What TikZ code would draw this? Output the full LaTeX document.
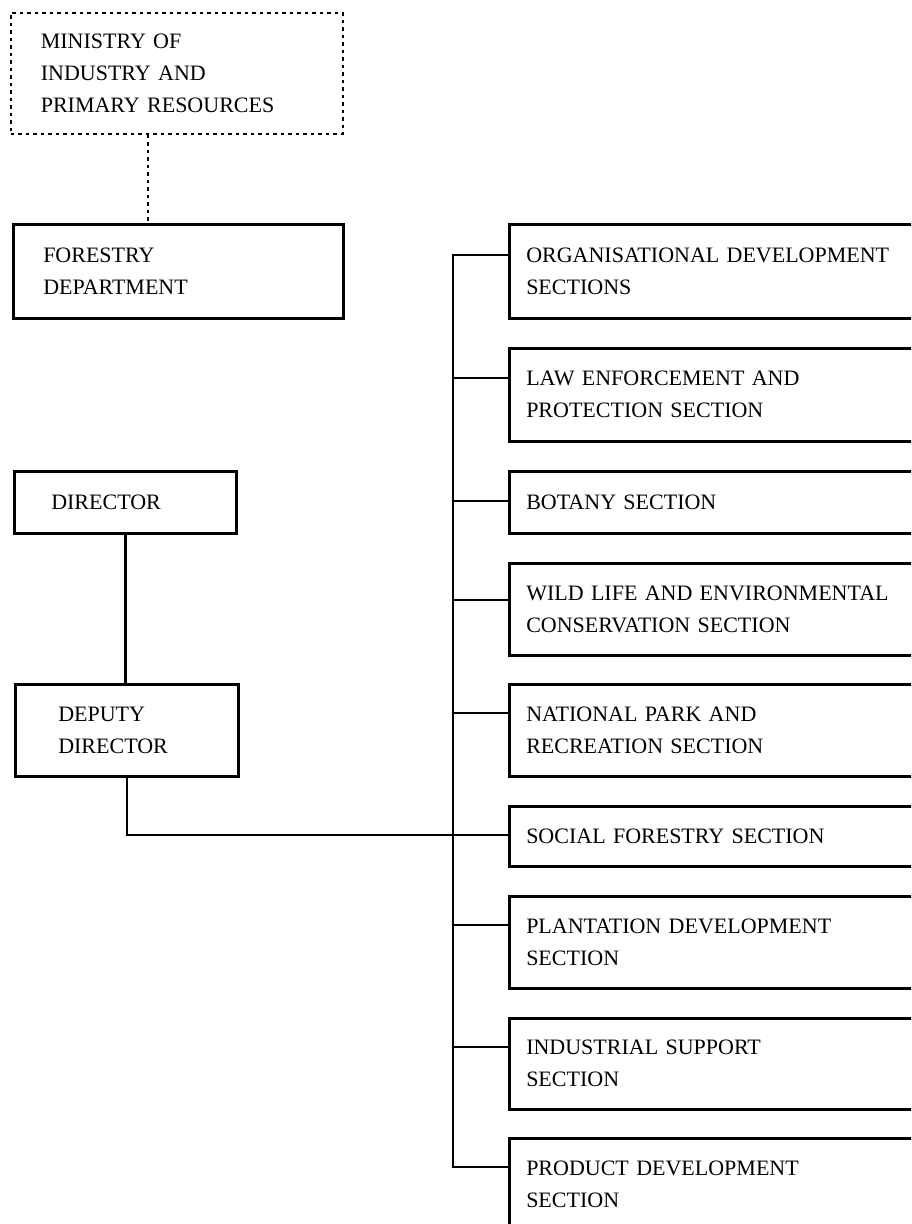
\documentclass[tikz,border=0pt]{standalone}
\usepackage{fontspec}
\setmainfont{Liberation Serif}
\usetikzlibrary{calc}
\begin{document}
\begin{tikzpicture}[x=1pt,y=-1pt,
  box/.style={draw, line width=2.5pt, rectangle, anchor=north west, inner ysep=0pt,
    align=left, font=\fontsize{22}{32}\selectfont},
  rbox/.style={box, inner xsep=17pt, text width=500pt, minimum height=#1},
  dotbox/.style={box, line width=1.6pt, dash pattern=on 3.5pt off 4pt},
  conn/.style={line width=2.5pt},
  dotline/.style={line width=1.6pt, dash pattern=on 3.5pt off 4pt}]
\clip (0,0) rectangle (911,1224);
\fill[white] (0,0) rectangle (911,1224);
% left column
\node[dotbox, inner xsep=30pt, text width=272pt, minimum height=121pt] (ministry) at (10,12)
  {MINISTRY OF\\INDUSTRY AND\\PRIMARY RESOURCES};
\node[box, inner xsep=30pt, text width=270pt, minimum height=94pt] (forestry) at (12,223)
  {FORESTRY\\DEPARTMENT};
\node[box, inner xsep=37pt, text width=148pt, minimum height=62pt] (director) at (13,470)
  {DIRECTOR};
\node[box, inner xsep=43pt, text width=137pt, minimum height=92pt] (deputy) at (14,683)
  {DEPUTY\\DIRECTOR};
% right column
\node[rbox=94pt] (s1) at (508,223) {ORGANISATIONAL DEVELOPMENT\\SECTIONS};
\node[rbox=93pt] (s2) at (508,347) {LAW ENFORCEMENT AND\\PROTECTION SECTION};
\node[rbox=62pt] (s3) at (508,470) {BOTANY SECTION};
\node[rbox=92pt] (s4) at (508,562) {WILD LIFE AND ENVIRONMENTAL\\CONSERVATION SECTION};
\node[rbox=92pt] (s5) at (508,683) {NATIONAL PARK AND\\RECREATION SECTION};
\node[rbox=60pt] (s6) at (508,805) {SOCIAL FORESTRY SECTION};
\node[rbox=92pt] (s7) at (508,895) {PLANTATION DEVELOPMENT\\SECTION};
\node[rbox=91pt] (s8) at (508,1017) {INDUSTRIAL SUPPORT\\SECTION};
\node[rbox=92pt] (s9) at (508,1137) {PRODUCT DEVELOPMENT\\SECTION};
% connector points
\coordinate (dx) at (148,0);
\coordinate (bus) at (453,0);
\foreach \i/\o in {1/32,2/31,3/31,4/38,5/30,6/30,7/30,8/30,9/30}
  \coordinate (c\i) at ($(s\i.north west)+(0,\o)$);
% connectors
\draw[dotline] (ministry.south -| dx) -- (forestry.north -| dx);
\draw[conn] (director.south) -- (director.south |- deputy.north);
\draw[conn] (deputy.south) |- (c6);
\draw[conn] (c1) -- (c1 -| bus) -- (c9 -| bus) -- (c9);
\foreach \i in {2,...,8}
  \draw[conn] (c\i -| bus) -- (c\i);
\end{tikzpicture}
\end{document}
